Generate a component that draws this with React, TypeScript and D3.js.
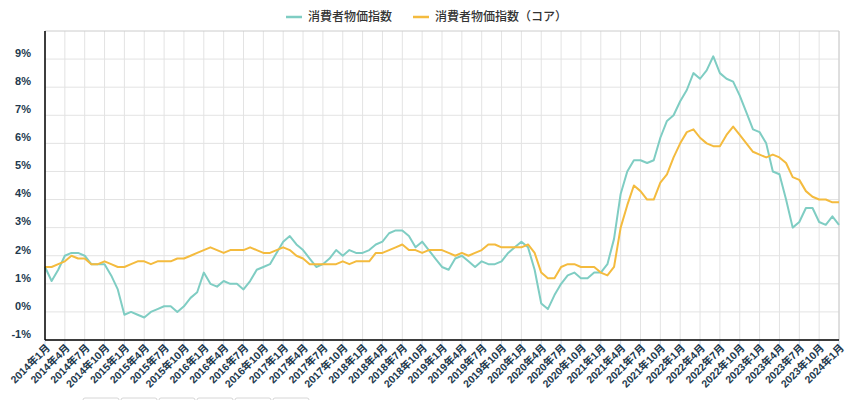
import * as d3 from "d3";
import React from "react";

// 2014年1月 〜 2024年1月, monthly
const startYear = 2014;
const monthCount = 121;

const cpi = [
  1.6, 1.1, 1.5, 2.0, 2.1, 2.1, 2.0, 1.7, 1.7, 1.7, 1.3, 0.8,
  -0.1, 0.0, -0.1, -0.2, 0.0, 0.1, 0.2, 0.2, 0.0, 0.2, 0.5, 0.7,
  1.4, 1.0, 0.9, 1.1, 1.0, 1.0, 0.8, 1.1, 1.5, 1.6, 1.7, 2.1,
  2.5, 2.7, 2.4, 2.2, 1.9, 1.6, 1.7, 1.9, 2.2, 2.0, 2.2, 2.1,
  2.1, 2.2, 2.4, 2.5, 2.8, 2.9, 2.9, 2.7, 2.3, 2.5, 2.2, 1.9,
  1.6, 1.5, 1.9, 2.0, 1.8, 1.6, 1.8, 1.7, 1.7, 1.8, 2.1, 2.3,
  2.5, 2.3, 1.5, 0.3, 0.1, 0.6, 1.0, 1.3, 1.4, 1.2, 1.2, 1.4,
  1.4, 1.7, 2.6, 4.2, 5.0, 5.4, 5.4, 5.3, 5.4, 6.2, 6.8, 7.0,
  7.5, 7.9, 8.5, 8.3, 8.6, 9.1, 8.5, 8.3, 8.2, 7.7, 7.1, 6.5,
  6.4, 6.0, 5.0, 4.9, 4.0, 3.0, 3.2, 3.7, 3.7, 3.2, 3.1, 3.4,
  3.1,
];

const coreCpi = [
  1.6, 1.6, 1.7, 1.8, 2.0, 1.9, 1.9, 1.7, 1.7, 1.8, 1.7, 1.6,
  1.6, 1.7, 1.8, 1.8, 1.7, 1.8, 1.8, 1.8, 1.9, 1.9, 2.0, 2.1,
  2.2, 2.3, 2.2, 2.1, 2.2, 2.2, 2.2, 2.3, 2.2, 2.1, 2.1, 2.2,
  2.3, 2.2, 2.0, 1.9, 1.7, 1.7, 1.7, 1.7, 1.7, 1.8, 1.7, 1.8,
  1.8, 1.8, 2.1, 2.1, 2.2, 2.3, 2.4, 2.2, 2.2, 2.1, 2.2, 2.2,
  2.2, 2.1, 2.0, 2.1, 2.0, 2.1, 2.2, 2.4, 2.4, 2.3, 2.3, 2.3,
  2.3, 2.4, 2.1, 1.4, 1.2, 1.2, 1.6, 1.7, 1.7, 1.6, 1.6, 1.6,
  1.4, 1.3, 1.6, 3.0, 3.8, 4.5, 4.3, 4.0, 4.0, 4.6, 4.9, 5.5,
  6.0, 6.4, 6.5, 6.2, 6.0, 5.9, 5.9, 6.3, 6.6, 6.3, 6.0, 5.7,
  5.6, 5.5, 5.6, 5.5, 5.3, 4.8, 4.7, 4.3, 4.1, 4.0, 4.0, 3.9,
  3.9,
];

const yTicks = [-1, 0, 1, 2, 3, 4, 5, 6, 7, 8, 9];

const seriesNames = ["消費者物価指数", "消費者物価指数（コア）"];
const seriesColors = ["#7fcdc3", "#f4bb3e"];

const monthLabel = (i: number) =>
  `${startYear + Math.floor(i / 12)}年${(i % 12) + 1}月`;

const width = 850;
const height = 400;
const margin = { top: 31, right: 11, bottom: 60, left: 45 };

export default function App() {
  const x = d3
    .scaleLinear()
    .domain([0, monthCount - 1])
    .range([margin.left, width - margin.right]);
  const y = d3
    .scaleLinear()
    .domain([-1, 10])
    .range([height - margin.bottom, margin.top]);

  const line = d3
    .line<number>()
    .x((_, i) => x(i))
    .y((d) => y(d));

  const xTickIdx = d3.range(0, monthCount, 3);
  const plotBottom = height - margin.bottom;
  const plotRight = width - margin.right;
  const axisFont = "'Liberation Sans', 'Noto Sans CJK JP', sans-serif";
  const legendFont = "'Noto Sans CJK JP', 'Noto Sans', sans-serif";

  return (
    <svg
      width={width}
      height={height}
      style={{ position: "fixed", left: 0, top: 0, background: "#fff" }}
    >
      {/* grid */}
      {yTicks.map((t) => (
        <line
          key={"gy" + t}
          x1={margin.left}
          x2={plotRight}
          y1={y(t)}
          y2={y(t)}
          stroke="#e3e3e3"
          strokeWidth={1}
        />
      ))}
      {xTickIdx.map((i) => (
        <g key={"gx" + i}>
          <line
            x1={x(i)}
            x2={x(i)}
            y1={margin.top}
            y2={plotBottom}
            stroke="#e3e3e3"
          />
          <line
            x1={x(i)}
            x2={x(i)}
            y1={plotBottom}
            y2={plotBottom + 8}
            stroke="#ccd6e3"
          />
        </g>
      ))}
      <line
        x1={margin.left}
        x2={plotRight}
        y1={margin.top}
        y2={margin.top}
        stroke="#cccccc"
      />
      <line
        x1={plotRight}
        x2={plotRight}
        y1={margin.top}
        y2={plotBottom}
        stroke="#cccccc"
      />

      {/* series */}
      {[cpi, coreCpi].map((s, k) => (
        <path
          key={"s" + k}
          d={line(s) ?? ""}
          fill="none"
          stroke={seriesColors[k]}
          strokeWidth={2}
          strokeLinejoin="round"
        />
      ))}

      {/* axes */}
      <line
        x1={margin.left}
        x2={margin.left}
        y1={margin.top}
        y2={plotBottom}
        stroke="#000"
        strokeWidth={1.5}
      />
      <line
        x1={margin.left}
        x2={plotRight}
        y1={plotBottom}
        y2={plotBottom}
        stroke="#000"
        strokeWidth={1.5}
      />

      {yTicks.map((t) => (
        <text
          key={"ly" + t}
          x={31}
          y={y(t) - 6}
          dy="0.35em"
          textAnchor="end"
          fontFamily={axisFont}
          fontWeight="bold"
          fontSize={11}
          fill="#22394d"
        >
          {t}%
        </text>
      ))}
      {xTickIdx.map((i) => (
        <text
          key={"lx" + i}
          transform={`translate(${x(i) + 3},${plotBottom + 6}) rotate(-45)`}
          dy="0.35em"
          textAnchor="end"
          fontFamily={axisFont}
          fontWeight="bold"
          fontSize={10.5}
          fill="#22394d"
        >
          {monthLabel(i)}
        </text>
      ))}

      {/* legend */}
      {seriesNames.map((n, k) => {
        const lx = k === 0 ? 286 : 413;
        return (
          <g key={"lg" + k}>
            <line
              x1={lx}
              x2={lx + 16}
              y1={17}
              y2={17}
              stroke={seriesColors[k]}
              strokeWidth={2.5}
            />
            <text
              x={lx + 22}
              y={17}
              dy="0.35em"
              fontFamily={legendFont}
              fontWeight={500}
              fontSize={12}
              fill="#333"
            >
              {n}
            </text>
          </g>
        );
      })}

      {/* faint boxes peeking at the bottom edge */}
      {d3.range(6).map((k) => (
        <rect
          key={"bx" + k}
          x={83 + k * 38}
          y={398}
          width={36}
          height={8}
          rx={2}
          fill="none"
          stroke="#d6d6d6"
        />
      ))}
    </svg>
  );
}
